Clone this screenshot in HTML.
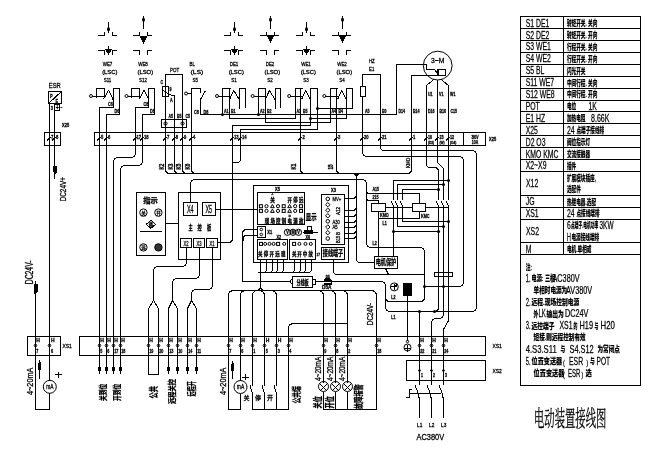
<!DOCTYPE html>
<html><head><meta charset="utf-8"><title>电动装置接线图</title>
<style>
html,body{margin:0;padding:0;background:#fff}
svg{display:block;will-change:transform;transform:translateZ(0)}
svg text{font-family:"Liberation Sans","Noto Sans CJK SC",sans-serif;fill:#000;stroke:#000;stroke-width:0.3px}
svg .tb{stroke-width:0.25px}
svg .cjt{font-family:"Liberation Sans","Noto Sans CJK SC",sans-serif;font-weight:900;stroke-width:0.15px}
svg .lb{font-weight:700}
svg .cjl{stroke-width:0.1px}
svg .cj{font-family:"Liberation Sans","Noto Sans CJK SC",sans-serif}
svg .cjb{font-family:"Liberation Sans","Noto Sans CJK SC",sans-serif;font-weight:700}
svg .ttl{font-family:"Liberation Serif","Noto Serif CJK SC",serif;font-weight:400}
</style></head><body>
<svg width="658" height="455" viewBox="0 0 658 455">
<rect x="0" y="0" width="658" height="455" fill="#fff"/>
<g fill="none" stroke="#000" stroke-width="1" stroke-linecap="square" shape-rendering="crispEdges">
<line x1="108.5" y1="22.5" x2="108.5" y2="32.5"/>
<line x1="98.5" y1="35.5" x2="104.5" y2="35.5"/>
<line x1="104.5" y1="32.5" x2="104.5" y2="35.5"/>
<line x1="112.5" y1="32.5" x2="112.5" y2="35.5"/>
<line x1="112.5" y1="35.5" x2="116.5" y2="35.5"/>
<line x1="98.5" y1="50.5" x2="104.5" y2="50.5"/>
<line x1="104.5" y1="50.5" x2="104.5" y2="54.5"/>
<line x1="112.5" y1="50.5" x2="112.5" y2="54.5"/>
<line x1="112.5" y1="50.5" x2="116.5" y2="50.5"/>
<line x1="108.5" y1="46.5" x2="108.5" y2="49.5"/>
<path d="M105.5 49 L111.5 49 L108.5 54 Z" fill="#000"/>
<line x1="143.5" y1="16.5" x2="143.5" y2="28.5"/>
<line x1="133.5" y1="35.5" x2="139.5" y2="35.5"/>
<line x1="139.5" y1="32.5" x2="139.5" y2="35.5"/>
<line x1="147.5" y1="32.5" x2="147.5" y2="35.5"/>
<line x1="147.5" y1="35.5" x2="151.5" y2="35.5"/>
<path d="M140.3 36.5 L146.7 36.5 L143.5 42.5 Z" fill="#000"/>
<line x1="133.5" y1="50.5" x2="139.5" y2="50.5"/>
<line x1="139.5" y1="50.5" x2="139.5" y2="54.5"/>
<line x1="147.5" y1="50.5" x2="147.5" y2="54.5"/>
<line x1="147.5" y1="50.5" x2="151.5" y2="50.5"/>
<line x1="234.5" y1="22.5" x2="234.5" y2="32.5"/>
<line x1="224.5" y1="35.5" x2="230.5" y2="35.5"/>
<line x1="230.5" y1="32.5" x2="230.5" y2="35.5"/>
<line x1="238.5" y1="32.5" x2="238.5" y2="35.5"/>
<line x1="238.5" y1="35.5" x2="242.5" y2="35.5"/>
<line x1="224.5" y1="50.5" x2="230.5" y2="50.5"/>
<line x1="230.5" y1="50.5" x2="230.5" y2="54.5"/>
<line x1="238.5" y1="50.5" x2="238.5" y2="54.5"/>
<line x1="238.5" y1="50.5" x2="242.5" y2="50.5"/>
<line x1="234.5" y1="46.5" x2="234.5" y2="49.5"/>
<path d="M231.5 49 L237.5 49 L234.5 54 Z" fill="#000"/>
<line x1="270.5" y1="16.5" x2="270.5" y2="28.5"/>
<line x1="260.5" y1="35.5" x2="278.5" y2="35.5"/>
<line x1="266.5" y1="32.5" x2="266.5" y2="35.5"/>
<line x1="274.5" y1="32.5" x2="274.5" y2="35.5"/>
<path d="M267.3 35.5 L273.7 35.5 L270.5 42 Z" fill="#000"/>
<line x1="260.5" y1="50.5" x2="266.5" y2="50.5"/>
<line x1="266.5" y1="50.5" x2="266.5" y2="54.5"/>
<line x1="274.5" y1="50.5" x2="274.5" y2="54.5"/>
<line x1="274.5" y1="50.5" x2="278.5" y2="50.5"/>
<line x1="306.5" y1="22.5" x2="306.5" y2="32.5"/>
<line x1="296.5" y1="35.5" x2="302.5" y2="35.5"/>
<line x1="302.5" y1="32.5" x2="302.5" y2="35.5"/>
<line x1="310.5" y1="32.5" x2="310.5" y2="35.5"/>
<line x1="310.5" y1="35.5" x2="314.5" y2="35.5"/>
<line x1="296.5" y1="50.5" x2="302.5" y2="50.5"/>
<line x1="302.5" y1="50.5" x2="302.5" y2="54.5"/>
<line x1="310.5" y1="50.5" x2="310.5" y2="54.5"/>
<line x1="310.5" y1="50.5" x2="314.5" y2="50.5"/>
<line x1="306.5" y1="46.5" x2="306.5" y2="49.5"/>
<path d="M303.5 49 L309.5 49 L306.5 54 Z" fill="#000"/>
<line x1="342.5" y1="16.5" x2="342.5" y2="28.5"/>
<line x1="332.5" y1="35.5" x2="350.5" y2="35.5"/>
<line x1="338.5" y1="32.5" x2="338.5" y2="35.5"/>
<line x1="346.5" y1="32.5" x2="346.5" y2="35.5"/>
<path d="M339.3 35.5 L345.7 35.5 L342.5 42 Z" fill="#000"/>
<line x1="332.5" y1="50.5" x2="338.5" y2="50.5"/>
<line x1="338.5" y1="50.5" x2="338.5" y2="54.5"/>
<line x1="346.5" y1="50.5" x2="346.5" y2="54.5"/>
<line x1="346.5" y1="50.5" x2="350.5" y2="50.5"/>
<line x1="92.5" y1="96.5" x2="105" y2="96.5"/>
<line x1="96.5" y1="88.5" x2="96.5" y2="97.5"/>
<line x1="96.5" y1="88.5" x2="104.5" y2="88.5"/>
<line x1="104.5" y1="88.5" x2="104.5" y2="96.5"/>
<line x1="103.7" y1="98.8" x2="108.7" y2="90.2"/>
<line x1="108.7" y1="90.2" x2="112.9" y2="99.2"/>
<line x1="113.5" y1="88.5" x2="113.5" y2="107.5"/>
<line x1="113.5" y1="88.5" x2="119.5" y2="88.5"/>
<line x1="119.5" y1="88.5" x2="119.5" y2="114.5"/>
<line x1="99.5" y1="107.5" x2="113.5" y2="107.5"/>
<line x1="99.5" y1="107.5" x2="99.5" y2="132.5"/>
<line x1="106.5" y1="114.5" x2="119.5" y2="114.5"/>
<line x1="106.5" y1="114.5" x2="106.5" y2="132.5"/>
<line x1="128" y1="96.5" x2="140.5" y2="96.5"/>
<line x1="131.5" y1="88.5" x2="131.5" y2="97.5"/>
<line x1="131.5" y1="88.5" x2="139.5" y2="88.5"/>
<line x1="139.5" y1="88.5" x2="139.5" y2="96.5"/>
<line x1="139.2" y1="98.8" x2="144.2" y2="90.2"/>
<line x1="144.2" y1="90.2" x2="148.4" y2="99.2"/>
<line x1="148.5" y1="88.5" x2="148.5" y2="107.5"/>
<line x1="148.5" y1="88.5" x2="154.5" y2="88.5"/>
<line x1="154.5" y1="88.5" x2="154.5" y2="114.5"/>
<line x1="135.5" y1="107.5" x2="148.5" y2="107.5"/>
<line x1="135.5" y1="107.5" x2="135.5" y2="132.5"/>
<line x1="142.5" y1="114.5" x2="154.5" y2="114.5"/>
<line x1="142.5" y1="114.5" x2="142.5" y2="132.5"/>
<line x1="187.5" y1="93.5" x2="191" y2="93.5"/>
<line x1="191.5" y1="88.5" x2="200.5" y2="88.5"/>
<line x1="200.5" y1="88.5" x2="200.5" y2="92.5"/>
<line x1="205" y1="91.5" x2="200.5" y2="99.5"/>
<line x1="200.5" y1="99.5" x2="200.5" y2="114.5"/>
<line x1="218.5" y1="96.5" x2="230" y2="96.5"/>
<line x1="222.5" y1="88.5" x2="222.5" y2="114.5"/>
<line x1="222.5" y1="88.5" x2="230.5" y2="88.5"/>
<line x1="229.5" y1="88.5" x2="229.5" y2="118.5"/>
<line x1="230" y1="98.5" x2="233.7" y2="90.5"/>
<line x1="233.7" y1="90.5" x2="239.3" y2="99.5"/>
<line x1="239.5" y1="88.5" x2="239.5" y2="108.5"/>
<line x1="239.5" y1="88.5" x2="245.5" y2="88.5"/>
<line x1="245.5" y1="88.5" x2="245.5" y2="107.5"/>
<line x1="254.2" y1="96.5" x2="265.7" y2="96.5"/>
<line x1="258.5" y1="88.5" x2="258.5" y2="114.5"/>
<line x1="258.5" y1="88.5" x2="265.5" y2="88.5"/>
<line x1="265.5" y1="88.5" x2="265.5" y2="122.5"/>
<line x1="265.7" y1="98.5" x2="269.4" y2="90.5"/>
<line x1="269.4" y1="90.5" x2="275" y2="99.5"/>
<line x1="275.5" y1="88.5" x2="275.5" y2="108.5"/>
<line x1="275.5" y1="88.5" x2="280.5" y2="88.5"/>
<line x1="280.5" y1="88.5" x2="280.5" y2="107.5"/>
<line x1="290.7" y1="96.5" x2="302" y2="96.5"/>
<line x1="295.5" y1="88.5" x2="295.5" y2="118.5"/>
<line x1="295.5" y1="88.5" x2="302.5" y2="88.5"/>
<line x1="302" y1="98.5" x2="305.5" y2="90.5"/>
<line x1="305.5" y1="90.5" x2="310.5" y2="99.5"/>
<line x1="310.5" y1="88.5" x2="310.5" y2="125.5"/>
<line x1="310.5" y1="88.5" x2="317.5" y2="88.5"/>
<line x1="317.5" y1="88.5" x2="317.5" y2="129.5"/>
<line x1="325.8" y1="96.5" x2="338" y2="96.5"/>
<line x1="330.5" y1="88.5" x2="330.5" y2="122.5"/>
<line x1="330.5" y1="88.5" x2="337.5" y2="88.5"/>
<line x1="338" y1="98.5" x2="341.5" y2="90.5"/>
<line x1="341.5" y1="90.5" x2="346.5" y2="99.5"/>
<line x1="346.5" y1="88.5" x2="346.5" y2="118.5"/>
<line x1="346.5" y1="88.5" x2="352.5" y2="88.5"/>
<line x1="352.5" y1="88.5" x2="352.5" y2="108.5"/>
<line x1="317.5" y1="108.5" x2="352.5" y2="108.5"/>
<line x1="200.5" y1="114.5" x2="396.5" y2="114.5"/>
<line x1="396.5" y1="64.5" x2="396.5" y2="114.5"/>
<line x1="229.5" y1="118.5" x2="295.5" y2="118.5"/>
<line x1="310.5" y1="118.5" x2="346.5" y2="118.5"/>
<line x1="265.5" y1="122.5" x2="330.5" y2="122.5"/>
<line x1="232.5" y1="125.5" x2="310.5" y2="125.5"/>
<line x1="240.5" y1="129.5" x2="317.5" y2="129.5"/>
<line x1="165.5" y1="74.5" x2="182.5" y2="74.5"/>
<rect x="162.5" y="86.5" width="6" height="10"/>
<line x1="162" y1="90" x2="171.5" y2="95.5"/>
<line x1="171.5" y1="95.5" x2="174.5" y2="95.5"/>
<rect x="161.5" y="119.5" width="25" height="8"/>
<line x1="362.5" y1="74.5" x2="380.5" y2="74.5"/>
<rect x="360.5" y="86.5" width="5" height="10" fill="#fff"/>
<line x1="396.5" y1="64.5" x2="426.5" y2="64.5"/>
<line x1="426.5" y1="64.5" x2="426.5" y2="69.5"/>
<line x1="426.5" y1="69.5" x2="434.5" y2="69.5"/>
<line x1="434.5" y1="69.5" x2="436.5" y2="72"/>
<rect x="437.5" y="69.5" width="8" height="6"/>
<line x1="438.5" y1="69.5" x2="438.5" y2="75.5"/>
<line x1="411.5" y1="75.5" x2="436.5" y2="75.5"/>
<line x1="437.5" y1="80.5" x2="437.5" y2="145.5"/>
<line x1="433.5" y1="79.7" x2="426.5" y2="85.5"/>
<line x1="426.5" y1="85.5" x2="426.5" y2="145.5"/>
<line x1="441.5" y1="79.7" x2="448.5" y2="85.5"/>
<line x1="448.5" y1="85.5" x2="448.5" y2="145.5"/>
<rect x="94.5" y="132.5" width="391" height="13"/>
<line x1="463.5" y1="132.5" x2="463.5" y2="145.5"/>
<rect x="44.5" y="132.5" width="16" height="13"/>
<line x1="97.8" y1="140.2" x2="100" y2="137.6" stroke-width="1.4"/>
<line x1="104.8" y1="140.2" x2="107" y2="137.6" stroke-width="1.4"/>
<line x1="133.8" y1="140.2" x2="136" y2="137.6" stroke-width="1.4"/>
<line x1="140.8" y1="140.2" x2="143" y2="137.6" stroke-width="1.4"/>
<line x1="163.8" y1="140.2" x2="166" y2="137.6" stroke-width="1.4"/>
<line x1="172.8" y1="140.2" x2="175" y2="137.6" stroke-width="1.4"/>
<line x1="180.8" y1="140.2" x2="183" y2="137.6" stroke-width="1.4"/>
<line x1="189.8" y1="140.2" x2="192" y2="137.6" stroke-width="1.4"/>
<line x1="230.8" y1="140.2" x2="233" y2="137.6" stroke-width="1.4"/>
<line x1="238.8" y1="140.2" x2="241" y2="137.6" stroke-width="1.4"/>
<line x1="298.8" y1="140.2" x2="301" y2="137.6" stroke-width="1.4"/>
<line x1="334.8" y1="140.2" x2="337" y2="137.6" stroke-width="1.4"/>
<line x1="360.8" y1="140.2" x2="363" y2="137.6" stroke-width="1.4"/>
<line x1="378.8" y1="140.2" x2="381" y2="137.6" stroke-width="1.4"/>
<line x1="409.8" y1="140.2" x2="412" y2="137.6" stroke-width="1.4"/>
<line x1="424.8" y1="140.2" x2="427" y2="137.6" stroke-width="1.4"/>
<line x1="435.8" y1="140.2" x2="438" y2="137.6" stroke-width="1.4"/>
<line x1="446.8" y1="140.2" x2="449" y2="137.6" stroke-width="1.4"/>
<line x1="47.8" y1="140.2" x2="50" y2="137.6" stroke-width="1.4"/>
<line x1="52.8" y1="140.2" x2="55" y2="137.6" stroke-width="1.4"/>
<line x1="99.5" y1="132.5" x2="99.5" y2="336.5"/>
<line x1="106.5" y1="132.5" x2="106.5" y2="336.5"/>
<line x1="135.5" y1="132.5" x2="135.5" y2="145.5"/>
<line x1="142.5" y1="132.5" x2="142.5" y2="145.5"/>
<line x1="165.5" y1="74.5" x2="165.5" y2="127.5"/>
<line x1="165.5" y1="127.5" x2="165.5" y2="145.5"/>
<line x1="174.5" y1="95.5" x2="174.5" y2="145.5"/>
<line x1="182.5" y1="74.5" x2="182.5" y2="145.5"/>
<line x1="191.5" y1="88.5" x2="191.5" y2="145.5"/>
<line x1="232.5" y1="125.5" x2="232.5" y2="145.5"/>
<line x1="240.5" y1="129.5" x2="240.5" y2="145.5"/>
<line x1="300.5" y1="88.5" x2="300.5" y2="145.5"/>
<line x1="336.5" y1="88.5" x2="336.5" y2="145.5"/>
<line x1="362.5" y1="74.5" x2="362.5" y2="86.5"/>
<line x1="362.5" y1="96.5" x2="362.5" y2="145.5"/>
<line x1="380.5" y1="74.5" x2="380.5" y2="145.5"/>
<line x1="411.5" y1="75.5" x2="411.5" y2="145.5"/>
<rect x="48.5" y="91.5" width="13" height="12"/>
<line x1="48.5" y1="103.5" x2="61.5" y2="91.5"/>
<rect x="54.5" y="104.5" width="5" height="6"/>
<line x1="49.5" y1="103.5" x2="49.5" y2="380.5"/>
<line x1="54.5" y1="103.5" x2="54.5" y2="178.5"/>
<path d="M53.8 166 L56.3 166 L56.3 172 L55 174 L53.8 172 Z" fill="#000"/>
<line x1="35.5" y1="281.5" x2="35.5" y2="409.5"/>
<path d="M34 284.5 L37 284.5 L37 292 L35.5 294 L34 292 Z" fill="#000"/>
<path d="M135.5 145.5 L135.5 152.5 Q135.5 157.5 130.5 157.5 L118.5 157.5 Q113.5 157.5 113.5 162.5 L113.5 336.5"/>
<path d="M142.5 145.5 L142.5 160.5 Q142.5 165.5 137.5 165.5 L125.5 165.5 Q120.5 165.5 120.5 170.5 L120.5 336.5"/>
<path d="M165.5 145.5 L165.5 169 Q165.5 173.5 170 173.5 L175.5 173.5"/>
<path d="M174.5 145.5 L174.5 169 Q174.5 173.5 179 173.5 L184.5 173.5"/>
<path d="M182.5 145.5 L182.5 169 Q182.5 173.5 187 173.5 L192.5 173.5"/>
<path d="M191.5 145.5 L191.5 169 Q191.5 173.5 196 173.5 L201.5 173.5"/>
<path d="M300.5 145.5 L300.5 169 Q300.5 173.5 305 173.5 L310.5 173.5"/>
<path d="M336.5 145.5 L336.5 169 Q336.5 173.5 341 173.5 L346.5 173.5"/>
<line x1="170.5" y1="173.5" x2="408.5" y2="173.5"/>
<path d="M400.5 173.5 L407 173.5 Q411.5 173.5 411.5 169 L411.5 145.5"/>
<line x1="232.5" y1="145.5" x2="232.5" y2="234.5"/>
<path d="M240.5 145.5 L240.5 158.5 Q240.5 162.5 236.5 162.5 L232.5 162.5"/>
<path d="M232.5 230.5 L232.5 238 Q232.5 242.5 228 242.5 L217.5 242.5"/>
<path d="M190.5 202.5 L190.5 184.5 Q190.5 179.5 195.5 179.5 L361.5 179.5 Q366.5 179.5 366.5 184.5 L366.5 242.5 Q366.5 247.5 371.5 247.5 L419.5 247.5 Q424.5 247.5 424.5 252.5 L424.5 297.5"/>
<path d="M362.5 145.5 L362.5 151.5 Q362.5 156.5 367.5 156.5 L458.5 156.5 Q463.5 156.5 463.5 161.5 L463.5 281.5 Q463.5 286.5 458.5 286.5 L424.5 286.5"/>
<path d="M380.5 145.5 L380.5 148 Q380.5 150.5 385.5 150.5 L471.5 150.5 Q476.5 150.5 476.5 155.5 L476.5 306.5 Q476.5 311.5 471.5 311.5 L390.5 311.5 Q385.5 311.5 385.5 306.5 L385.5 290.5"/>
<path d="M426.5 145.5 L426.5 163.5 Q426.5 167.5 430.5 167.5 L434.5 167.5 Q438.5 167.5 438.5 171.5 L438.5 199.5"/>
<path d="M437.5 145.5 L437.5 160.5 Q437.5 163.5 440 165.16 L441 165.84 Q443.5 167.5 443.5 170.5 L443.5 199.5"/>
<line x1="448.5" y1="145.5" x2="448.5" y2="199.5"/>
<path d="M354 173.5 L359 173.5 L356.5 177 Z" fill="#000"/>
<path d="M356.5 173.5 L356.5 258.5 Q356.5 262.5 360.5 262.5 L374.5 262.5"/>
<line x1="393.5" y1="180.5" x2="393.5" y2="199.5"/>
<line x1="391.3" y1="201.5" x2="393.5" y2="206.5"/>
<line x1="393.5" y1="206.5" x2="393.5" y2="231.5"/>
<line x1="397.5" y1="184.5" x2="397.5" y2="199.5"/>
<line x1="395.3" y1="201.5" x2="397.5" y2="206.5"/>
<line x1="397.5" y1="206.5" x2="397.5" y2="226.5"/>
<line x1="402.5" y1="189.5" x2="402.5" y2="199.5"/>
<line x1="400.3" y1="201.5" x2="402.5" y2="206.5"/>
<line x1="402.5" y1="206.5" x2="402.5" y2="221.5"/>
<line x1="436.3" y1="201.5" x2="438.5" y2="206.5"/>
<line x1="438.5" y1="206.5" x2="438.5" y2="276.5"/>
<line x1="441.3" y1="201.5" x2="443.5" y2="206.5"/>
<line x1="443.5" y1="206.5" x2="443.5" y2="276.5"/>
<line x1="446.3" y1="201.5" x2="448.5" y2="206.5"/>
<line x1="448.5" y1="206.5" x2="448.5" y2="276.5"/>
<line x1="393.5" y1="180.5" x2="448.5" y2="180.5"/>
<line x1="397.5" y1="184.5" x2="443.5" y2="184.5"/>
<line x1="402.5" y1="189.5" x2="438.5" y2="189.5"/>
<line x1="402.5" y1="221.5" x2="448.5" y2="221.5"/>
<line x1="397.5" y1="226.5" x2="443.5" y2="226.5"/>
<line x1="393.5" y1="231.5" x2="438.5" y2="231.5"/>
<line x1="393.5" y1="231.5" x2="393.5" y2="256.5"/>
<rect x="371.5" y="203.5" width="14" height="8"/>
<rect x="412.5" y="203.5" width="13" height="8"/>
<line x1="385.5" y1="207.5" x2="412.5" y2="207.5"/>
<line x1="425.5" y1="207.5" x2="448.5" y2="207.5"/>
<line x1="370.5" y1="193.5" x2="419.5" y2="193.5"/>
<line x1="419.5" y1="193.5" x2="419.5" y2="203.5"/>
<line x1="370.5" y1="200.5" x2="378.5" y2="200.5"/>
<line x1="378.5" y1="200.5" x2="378.5" y2="203.5"/>
<line x1="378.5" y1="211.5" x2="378.5" y2="256.5"/>
<line x1="419.5" y1="211.5" x2="419.5" y2="218.5"/>
<line x1="378.5" y1="218.5" x2="419.5" y2="218.5"/>
<path d="M366.5 186.5 L366.5 190.5 Q366.5 193.5 369.5 193.5 L372.5 193.5"/>
<path d="M366.5 193.5 L366.5 197.5 Q366.5 200.5 369.5 200.5 L372.5 200.5"/>
<rect x="374.5" y="256.5" width="23" height="12"/>
<line x1="385.5" y1="268.5" x2="388" y2="273.5"/>
<path d="M333.5 259.5 L333.5 270.5 Q333.5 274.5 337.5 274.5 L424.5 274.5"/>
<rect x="434.5" y="272.5" width="18" height="4"/>
<path d="M438.5 276.5 L438.5 307 Q438.5 311.5 434 311.5 L429.5 311.5"/>
<path d="M443.5 276.5 L443.5 313.5 Q443.5 318.5 438.5 318.5 L436.5 318.5 Q431.5 318.5 431.5 323.5 L431.5 336.5"/>
<path d="M448.5 276.5 L448.5 320.5 L443.5 329.5 L443.5 336.5"/>
<line x1="419.5" y1="311.5" x2="419.5" y2="384.5"/>
<line x1="431.5" y1="336.5" x2="431.5" y2="384.5"/>
<line x1="443.5" y1="336.5" x2="443.5" y2="384.5"/>
<path d="M316.5 281.5 L381 281.5 Q385.5 281.5 385.5 286 L385.5 297 Q385.5 301.5 390 301.5 L420 301.5 Q424.5 301.5 424.5 297 L424.5 290.5"/>
<line x1="391.5" y1="286.8" x2="396" y2="286.8"/>
<line x1="394.3" y1="284" x2="394.3" y2="289.5"/>
<line x1="394.3" y1="286.8" x2="397" y2="284.5"/>
<rect x="403.5" y="283.5" width="8" height="12" fill="#000"/>
<line x1="407.5" y1="296.5" x2="407.5" y2="340.5"/>
<line x1="404.5" y1="348.3" x2="410" y2="348.3"/>
<line x1="407.5" y1="345.5" x2="407.5" y2="351"/>
<rect x="79.5" y="336.5" width="406" height="19"/>
<rect x="27.5" y="336.5" width="33" height="19"/>
<rect x="406.5" y="360.5" width="79" height="20"/>
<line x1="99.5" y1="336.5" x2="99.5" y2="373.5"/>
<path d="M98.2 367 L100.8 367 L100.8 370 L99.5 372 L98.2 370 Z" fill="#000"/>
<line x1="106.5" y1="336.5" x2="106.5" y2="373.5"/>
<path d="M105.2 367 L107.8 367 L107.8 370 L106.5 372 L105.2 370 Z" fill="#000"/>
<line x1="113.5" y1="336.5" x2="113.5" y2="373.5"/>
<path d="M112.2 367 L114.8 367 L114.8 370 L113.5 372 L112.2 370 Z" fill="#000"/>
<line x1="120.5" y1="336.5" x2="120.5" y2="373.5"/>
<path d="M119.2 367 L121.8 367 L121.8 370 L120.5 372 L119.2 370 Z" fill="#000"/>
<line x1="168.5" y1="336.5" x2="168.5" y2="373.5"/>
<path d="M167.2 367 L169.8 367 L169.8 370 L168.5 372 L167.2 370 Z" fill="#000"/>
<line x1="177.5" y1="336.5" x2="177.5" y2="373.5"/>
<path d="M176.2 367 L178.8 367 L178.8 370 L177.5 372 L176.2 370 Z" fill="#000"/>
<line x1="187.5" y1="336.5" x2="187.5" y2="373.5"/>
<path d="M186.2 367 L188.8 367 L188.8 370 L187.5 372 L186.2 370 Z" fill="#000"/>
<line x1="196.5" y1="336.5" x2="196.5" y2="373.5"/>
<path d="M195.2 367 L197.8 367 L197.8 370 L196.5 372 L195.2 370 Z" fill="#000"/>
<line x1="148.5" y1="308.5" x2="148.5" y2="374.5"/>
<line x1="158.5" y1="308.5" x2="158.5" y2="374.5"/>
<line x1="148.5" y1="374.5" x2="158.5" y2="374.5"/>
<path d="M148.5 336.5 L148.5 308.5 L153.5 300.5 L158.5 308.5 L158.5 336.5"/>
<path d="M168.5 336.5 L168.5 308.5 L172.5 300.5 L177.5 308.5 L177.5 336.5"/>
<path d="M187.5 336.5 L187.5 308.5 L191.5 300.5 L196.5 308.5 L196.5 336.5"/>
<path d="M186.5 247.5 L186.5 261.5 Q186.5 266.5 181.5 266.5 L158.5 266.5 Q153.5 266.5 153.5 271.5 L153.5 300.5"/>
<path d="M199.5 247.5 L199.5 273.5 Q199.5 278.5 194.5 278.5 L177.5 278.5 Q172.5 278.5 172.5 283.5 L172.5 300.5"/>
<path d="M212.5 247.5 L212.5 284.5 Q212.5 289.5 207.5 289.5 L196.5 289.5 Q191.5 289.5 191.5 294.5 L191.5 300.5"/>
<line x1="35.5" y1="409.5" x2="49.5" y2="409.5"/>
<line x1="49.5" y1="393.5" x2="49.5" y2="409.5"/>
<line x1="55.7" y1="374.5" x2="61" y2="374.5"/>
<line x1="58.3" y1="372" x2="58.3" y2="377"/>
<line x1="39.5" y1="362.5" x2="39.5" y2="378.5"/>
<path d="M39.5 361.5 L40.8 364 L40.8 369.5 L38.6 369.5 L38.6 364 Z" fill="#000"/>
<line x1="228.5" y1="355.5" x2="228.5" y2="409.5"/>
<line x1="228.5" y1="409.5" x2="240.5" y2="409.5"/>
<line x1="240.5" y1="355.5" x2="240.5" y2="380.5"/>
<line x1="240.5" y1="394.5" x2="240.5" y2="409.5"/>
<line x1="242.8" y1="377" x2="248" y2="377"/>
<line x1="245.4" y1="374.5" x2="245.4" y2="379.5"/>
<line x1="232.5" y1="362.5" x2="232.5" y2="378.5"/>
<path d="M232.5 362.5 L233.8 365 L233.8 370 L231.6 370 L231.6 365 Z" fill="#000"/>
<line x1="252.5" y1="355.5" x2="252.5" y2="385.5"/>
<line x1="250.2" y1="386" x2="252.5" y2="393.5"/>
<line x1="252.5" y1="393.5" x2="252.5" y2="409.5"/>
<line x1="264.5" y1="355.5" x2="264.5" y2="385.5"/>
<line x1="262.2" y1="386" x2="264.5" y2="393.5"/>
<line x1="264.5" y1="393.5" x2="264.5" y2="409.5"/>
<line x1="276.5" y1="355.5" x2="276.5" y2="385.5"/>
<line x1="274.2" y1="386" x2="276.5" y2="393.5"/>
<line x1="276.5" y1="393.5" x2="276.5" y2="409.5"/>
<line x1="288.5" y1="355.5" x2="288.5" y2="409.5"/>
<line x1="252.5" y1="409.5" x2="288.5" y2="409.5"/>
<line x1="323.5" y1="355.5" x2="323.5" y2="382.5"/>
<line x1="320" y1="383.8" x2="327" y2="390.8"/>
<line x1="320" y1="390.8" x2="327" y2="383.8"/>
<line x1="323.5" y1="392.5" x2="323.5" y2="409.5"/>
<line x1="335.5" y1="355.5" x2="335.5" y2="382.5"/>
<line x1="332" y1="383.8" x2="339" y2="390.8"/>
<line x1="332" y1="390.8" x2="339" y2="383.8"/>
<line x1="335.5" y1="392.5" x2="335.5" y2="409.5"/>
<line x1="347.5" y1="355.5" x2="347.5" y2="382.5"/>
<line x1="344" y1="383.8" x2="351" y2="390.8"/>
<line x1="344" y1="390.8" x2="351" y2="383.8"/>
<line x1="347.5" y1="392.5" x2="347.5" y2="409.5"/>
<line x1="323.5" y1="409.5" x2="376.5" y2="409.5"/>
<line x1="376.5" y1="355.5" x2="376.5" y2="409.5"/>
<line x1="233.5" y1="290.5" x2="371.5" y2="290.5"/>
<path d="M239.5 290.5 L234 290.5 Q228.5 290.5 228.5 296 L228.5 336.5"/>
<path d="M251.5 290.5 L246 290.5 Q240.5 290.5 240.5 296 L240.5 336.5"/>
<path d="M263.5 290.5 L258 290.5 Q252.5 290.5 252.5 296 L252.5 336.5"/>
<path d="M253.5 290.5 L259 290.5 Q264.5 290.5 264.5 296 L264.5 336.5"/>
<path d="M265.5 290.5 L271 290.5 Q276.5 290.5 276.5 296 L276.5 336.5"/>
<path d="M312.5 290.5 L318 290.5 Q323.5 290.5 323.5 296 L323.5 336.5"/>
<path d="M324.5 290.5 L330 290.5 Q335.5 290.5 335.5 296 L335.5 336.5"/>
<path d="M336.5 290.5 L342 290.5 Q347.5 290.5 347.5 296 L347.5 336.5"/>
<path d="M364.5 290.5 L371 290.5 Q376.5 290.5 376.5 296 L376.5 336.5"/>
<path d="M347.5 323.5 L294 323.5 Q288.5 323.5 288.5 329 L288.5 336.5"/>
<line x1="260.5" y1="259.5" x2="260.5" y2="288.5"/>
<path d="M257.5 290.5 Q260.5 289.5 260.5 286.5 Q260.5 289.5 263.5 290.5"/>
<line x1="228.5" y1="336.5" x2="228.5" y2="355.5"/>
<line x1="240.5" y1="336.5" x2="240.5" y2="355.5"/>
<line x1="252.5" y1="336.5" x2="252.5" y2="355.5"/>
<line x1="264.5" y1="336.5" x2="264.5" y2="355.5"/>
<line x1="276.5" y1="336.5" x2="276.5" y2="355.5"/>
<line x1="288.5" y1="336.5" x2="288.5" y2="355.5"/>
<line x1="323.5" y1="336.5" x2="323.5" y2="355.5"/>
<line x1="335.5" y1="336.5" x2="335.5" y2="355.5"/>
<line x1="347.5" y1="336.5" x2="347.5" y2="355.5"/>
<line x1="376.5" y1="336.5" x2="376.5" y2="355.5"/>
<path d="M415.2 386 Q419.2 394 419.5 402 L419.5 417"/>
<path d="M427.2 386 Q431.2 394 431.5 402 L431.5 417"/>
<path d="M439.2 386 Q443.2 394 443.5 402 L443.5 417"/>
<line x1="409.5" y1="393.5" x2="440.5" y2="393.5"/>
<path d="M406.5 397.5 L409.5 397.5 L409.5 389.5 L411.5 389.5"/>
<rect x="136.5" y="192.5" width="29" height="63"/>
<path d="M146.3 224.3 L150.9 220.3 L155.5 224.3 L150.9 228.3 Z"/>
<line x1="140.5" y1="231.5" x2="161.5" y2="231.5"/>
<line x1="165.5" y1="223.5" x2="178.5" y2="223.5"/>
<rect x="178.5" y="192.5" width="42" height="67"/>
<rect x="183.5" y="202.5" width="14" height="13"/>
<rect x="202.5" y="202.5" width="13" height="13"/>
<line x1="215.5" y1="209.5" x2="257.5" y2="209.5"/>
<rect x="180.5" y="238.5" width="11" height="9"/>
<rect x="193.5" y="238.5" width="11" height="9"/>
<rect x="206.5" y="238.5" width="11" height="9"/>
<rect x="253.5" y="185.5" width="95" height="77"/>
<rect x="257.5" y="192.5" width="47" height="32"/>
<rect x="257.5" y="226.5" width="8" height="11"/>
<line x1="303.5" y1="232.5" x2="317.5" y2="232.5"/>
<rect x="307.5" y="226.5" width="4" height="4"/>
<rect x="304.5" y="230.5" width="8" height="3" fill="#000"/>
<path d="M257.5 229.5 L246.5 229.5 Q242.5 229.5 242.5 233.5 L242.5 245.5"/>
<path d="M242.5 245.5 L242.5 281.5 L290.5 281.5"/>
<path d="M257.5 235.5 L246.5 235.5 Q243.5 235.5 243.5 238 L243.5 240.5"/>
<rect x="257.5" y="239.5" width="30" height="20"/>
<rect x="289.5" y="239.5" width="26" height="20"/>
<path d="M266.5 259.5 L266.5 268.5 Q266.5 272.5 262.5 272.5 L258.5 272.5"/>
<path d="M272.5 259.5 L272.5 268.5 Q272.5 272.5 268.5 272.5 L264.5 272.5"/>
<path d="M277.5 259.5 L277.5 268.5 Q277.5 272.5 273.5 272.5 L269.5 272.5"/>
<path d="M283.5 259.5 L283.5 268.5 Q283.5 272.5 279.5 272.5 L275.5 272.5"/>
<path d="M294.5 259.5 L294.5 268.5 Q294.5 272.5 290.5 272.5 L286.5 272.5"/>
<path d="M300.5 259.5 L300.5 268.5 Q300.5 272.5 296.5 272.5 L292.5 272.5"/>
<path d="M305.5 259.5 L305.5 268.5 Q305.5 272.5 301.5 272.5 L297.5 272.5"/>
<path d="M311.5 259.5 L311.5 268.5 Q311.5 272.5 307.5 272.5 L303.5 272.5"/>
<line x1="260.5" y1="272.5" x2="309.5" y2="272.5"/>
<rect x="321.5" y="194.5" width="23" height="50"/>
<path d="M344.5 198.5 L352 198.5 Q356.5 198.5 356.5 194 L356.5 189.5"/>
<path d="M344.5 210.5 L352 210.5 Q356.5 210.5 356.5 206 L356.5 201.5"/>
<path d="M344.5 216.5 L352 216.5 Q356.5 216.5 356.5 212 L356.5 207.5"/>
<path d="M344.5 222.5 L352 222.5 Q356.5 222.5 356.5 218 L356.5 213.5"/>
<path d="M344.5 227.5 L352 227.5 Q356.5 227.5 356.5 223 L356.5 218.5"/>
<path d="M344.5 233.5 L352 233.5 Q356.5 233.5 356.5 229 L356.5 224.5"/>
<path d="M344.5 238.5 L352 238.5 Q356.5 238.5 356.5 234 L356.5 229.5"/>
<rect x="321.5" y="247.5" width="23" height="12"/>
<path d="M333.5 259.5 L333.5 270.5 Q333.5 274.5 337 274.5 L340.5 274.5"/>
<rect x="292.5" y="276.5" width="20" height="11"/>
<path d="M292.5 278.5 L289.5 281.5 L292.5 284.5"/>
<rect x="312.5" y="279.5" width="3" height="5"/>
<path d="M324 284.5 L324 280.5 L325.5 278.8 L329.5 278.8 L331 280.5 L331 284.5 Z" fill="#000"/>
<line x1="324.5" y1="282.5" x2="330.5" y2="282.5" stroke="#fff"/>
<rect x="520.5" y="16.5" width="120" height="369"/>
<line x1="520.5" y1="16.5" x2="640.5" y2="16.5"/>
<line x1="520.5" y1="28.5" x2="640.5" y2="28.5"/>
<line x1="520.5" y1="40.5" x2="640.5" y2="40.5"/>
<line x1="520.5" y1="52.5" x2="640.5" y2="52.5"/>
<line x1="520.5" y1="64.5" x2="640.5" y2="64.5"/>
<line x1="520.5" y1="76.5" x2="640.5" y2="76.5"/>
<line x1="520.5" y1="88.5" x2="640.5" y2="88.5"/>
<line x1="520.5" y1="100.5" x2="640.5" y2="100.5"/>
<line x1="520.5" y1="111.5" x2="640.5" y2="111.5"/>
<line x1="520.5" y1="123.5" x2="640.5" y2="123.5"/>
<line x1="520.5" y1="135.5" x2="640.5" y2="135.5"/>
<line x1="520.5" y1="147.5" x2="640.5" y2="147.5"/>
<line x1="520.5" y1="159.5" x2="640.5" y2="159.5"/>
<line x1="520.5" y1="171.5" x2="640.5" y2="171.5"/>
<line x1="520.5" y1="195.5" x2="640.5" y2="195.5"/>
<line x1="520.5" y1="207.5" x2="640.5" y2="207.5"/>
<line x1="520.5" y1="219.5" x2="640.5" y2="219.5"/>
<line x1="520.5" y1="242.5" x2="640.5" y2="242.5"/>
<line x1="520.5" y1="254.5" x2="640.5" y2="254.5"/>
<line x1="563.5" y1="16.5" x2="563.5" y2="254.5"/>
</g>
<g fill="none" stroke="#000" stroke-width="1">
<ellipse cx="108.5" cy="29.3" rx="1.5" ry="2.1" fill="#000" stroke="none"/>
<ellipse cx="143.5" cy="19.8" rx="1.5" ry="2.1" fill="#000" stroke="none"/>
<ellipse cx="234.5" cy="29.3" rx="1.5" ry="2.1" fill="#000" stroke="none"/>
<ellipse cx="270.5" cy="19.8" rx="1.5" ry="2.1" fill="#000" stroke="none"/>
<ellipse cx="306.5" cy="29.3" rx="1.5" ry="2.1" fill="#000" stroke="none"/>
<ellipse cx="342.5" cy="19.8" rx="1.5" ry="2.1" fill="#000" stroke="none"/>
<circle cx="91" cy="96" r="1.5"/>
<circle cx="126.5" cy="96" r="1.5"/>
<circle cx="186" cy="93.5" r="1.5"/>
<circle cx="217" cy="96" r="1.5"/>
<circle cx="252.7" cy="96" r="1.5"/>
<circle cx="289.2" cy="96" r="1.5"/>
<circle cx="324.3" cy="96" r="1.5"/>
<circle cx="317.5" cy="108.5" r="1.5" fill="#000" stroke="none"/>
<circle cx="222.5" cy="114.5" r="1.5" fill="#000" stroke="none"/>
<circle cx="258.5" cy="114.5" r="1.5" fill="#000" stroke="none"/>
<circle cx="310.5" cy="118.5" r="1.5" fill="#000" stroke="none"/>
<circle cx="165.5" cy="123.5" r="1.6"/>
<circle cx="182.5" cy="123.5" r="1.6"/>
<circle cx="437.7" cy="65.6" r="14.4"/>
<circle cx="424.5" cy="286.5" r="1.5" fill="#000" stroke="none"/>
<circle cx="443.5" cy="286.5" r="1.5" fill="#000" stroke="none"/>
<circle cx="448.5" cy="180.5" r="1.5" fill="#000" stroke="none"/>
<circle cx="443.5" cy="184.5" r="1.5" fill="#000" stroke="none"/>
<circle cx="438.5" cy="189.5" r="1.5" fill="#000" stroke="none"/>
<circle cx="448.5" cy="221.5" r="1.5" fill="#000" stroke="none"/>
<circle cx="443.5" cy="226.5" r="1.5" fill="#000" stroke="none"/>
<circle cx="438.5" cy="231.5" r="1.6" fill="#000" stroke="none"/>
<circle cx="393.5" cy="231.5" r="1.5" fill="#000" stroke="none"/>
<circle cx="434.5" cy="311.5" r="1.5" fill="#000" stroke="none"/>
<circle cx="419.5" cy="311.5" r="1.5" fill="#000" stroke="none"/>
<circle cx="394.3" cy="286.9" r="4"/>
<circle cx="407.5" cy="341.5" r="1.2"/>
<circle cx="407.5" cy="347.5" r="3.5"/>
<circle cx="99.5" cy="345.5" r="1.3"/>
<circle cx="106.5" cy="345.5" r="1.3"/>
<circle cx="113.5" cy="345.5" r="1.3"/>
<circle cx="120.5" cy="345.5" r="1.3"/>
<circle cx="148.5" cy="345.5" r="1.3"/>
<circle cx="158.5" cy="345.5" r="1.3"/>
<circle cx="168.5" cy="345.5" r="1.3"/>
<circle cx="177.5" cy="345.5" r="1.3"/>
<circle cx="187.5" cy="345.5" r="1.3"/>
<circle cx="196.5" cy="345.5" r="1.3"/>
<circle cx="228.5" cy="345.5" r="1.3"/>
<circle cx="240.5" cy="345.5" r="1.3"/>
<circle cx="252.5" cy="345.5" r="1.3"/>
<circle cx="264.5" cy="345.5" r="1.3"/>
<circle cx="276.5" cy="345.5" r="1.3"/>
<circle cx="288.5" cy="345.5" r="1.3"/>
<circle cx="323.5" cy="345.5" r="1.3"/>
<circle cx="335.5" cy="345.5" r="1.3"/>
<circle cx="347.5" cy="345.5" r="1.3"/>
<circle cx="376.5" cy="345.5" r="1.3"/>
<circle cx="419.5" cy="345.5" r="1.3"/>
<circle cx="431.5" cy="345.5" r="1.3"/>
<circle cx="443.5" cy="345.5" r="1.3"/>
<circle cx="35.5" cy="345.5" r="1.3"/>
<circle cx="49.5" cy="345.5" r="1.3"/>
<circle cx="49.8" cy="386.8" r="6.5"/>
<circle cx="240.5" cy="387" r="6.5"/>
<circle cx="323.5" cy="386.5" r="5"/>
<circle cx="335.5" cy="386.5" r="5"/>
<circle cx="347.5" cy="386.5" r="5"/>
<circle cx="419.5" cy="370.5" r="0.9" fill="#000"/>
<circle cx="431.5" cy="370.5" r="0.9" fill="#000"/>
<circle cx="443.5" cy="370.5" r="0.9" fill="#000"/>
<circle cx="143.4" cy="212.6" r="3.7"/>
<circle cx="158.4" cy="212.6" r="3.7"/>
<circle cx="143.4" cy="247.4" r="3.7"/>
<circle cx="158.4" cy="247.4" r="3.7" fill="#333"/>
<rect x="259.4" y="204.7" width="3" height="3"/>
<rect x="259.4" y="209.4" width="3" height="3"/>
<circle cx="266.5" cy="206.2" r="1.6"/>
<circle cx="266.5" cy="210.9" r="1.6"/>
<path d="M270.5 207.7 L274.3 207.7 L272.4 204.5 Z"/>
<path d="M270.5 212.4 L274.3 212.4 L272.4 209.2 Z"/>
<circle cx="278" cy="206.2" r="1.6"/>
<circle cx="278" cy="210.9" r="1.6"/>
<rect x="282.2" y="204.7" width="3" height="3"/>
<rect x="282.2" y="209.4" width="3" height="3"/>
<path d="M287.7 207.7 L291.5 207.7 L289.6 204.5 Z"/>
<path d="M287.7 212.4 L291.5 212.4 L289.6 209.2 Z"/>
<circle cx="295.2" cy="206.2" r="1.6"/>
<circle cx="295.2" cy="210.9" r="1.6"/>
<rect x="299.5" y="204.7" width="3" height="3"/>
<rect x="299.5" y="209.4" width="3" height="3"/>
<circle cx="261.3" cy="229.5" r="1.3"/>
<circle cx="261.3" cy="234.5" r="1.3"/>
<circle cx="287.4" cy="232.3" r="3.1"/>
<circle cx="293" cy="232.3" r="3.1"/>
<circle cx="298.5" cy="232.3" r="3.1"/>
<rect x="259.5" y="242.4" width="3" height="3"/>
<circle cx="265.2" cy="243.9" r="1.5"/>
<circle cx="269.5" cy="243.9" r="1.5"/>
<circle cx="273.6" cy="243.9" r="1.5"/>
<rect x="276.6" y="242.4" width="3" height="3"/>
<circle cx="284.2" cy="243.9" r="1.5"/>
<rect x="292.6" y="242.4" width="3" height="3"/>
<circle cx="299.4" cy="243.9" r="1.5"/>
<circle cx="305.5" cy="243.9" r="1.5"/>
<circle cx="310.8" cy="243.9" r="1.5"/>
<circle cx="327.8" cy="198.9" r="1.8"/>
<path d="M325.6 204.7 L327.8 202.5 L330 204.7 L327.8 206.9 Z"/>
<path d="M325.6 210.2 L327.8 208 L330 210.2 L327.8 212.4 Z"/>
<path d="M325.6 215.8 L327.8 213.6 L330 215.8 L327.8 218 Z"/>
<circle cx="327.8" cy="221.3" r="1.8"/>
<path d="M325.6 227 L327.8 224.8 L330 227 L327.8 229.2 Z"/>
<path d="M325.6 232.7 L327.8 230.5 L330 232.7 L327.8 234.9 Z"/>
<circle cx="327.8" cy="238.5" r="1.8"/>
</g>
<g>
<text transform="translate(107.5 66) scale(0.72 1)" font-size="6.2" text-anchor="middle">WE7</text>
<text transform="translate(109.8 74.3) scale(0.95 1)" font-size="6.2" text-anchor="middle">(LSC)</text>
<text transform="translate(107.5 82.2) scale(0.72 1)" font-size="6.2" text-anchor="middle">S11</text>
<text transform="translate(143 66) scale(0.72 1)" font-size="6.2" text-anchor="middle">WE8</text>
<text transform="translate(145.3 74.3) scale(0.95 1)" font-size="6.2" text-anchor="middle">(LSO)</text>
<text transform="translate(143 82.2) scale(0.72 1)" font-size="6.2" text-anchor="middle">S12</text>
<text transform="translate(234 66) scale(0.72 1)" font-size="6.2" text-anchor="middle">DE1</text>
<text transform="translate(236.3 74.3) scale(0.95 1)" font-size="6.2" text-anchor="middle">(LSC)</text>
<text transform="translate(234 82.2) scale(0.72 1)" font-size="6.2" text-anchor="middle">S1</text>
<text transform="translate(270 66) scale(0.72 1)" font-size="6.2" text-anchor="middle">DE2</text>
<text transform="translate(272.3 74.3) scale(0.95 1)" font-size="6.2" text-anchor="middle">(LSO)</text>
<text transform="translate(270 82.2) scale(0.72 1)" font-size="6.2" text-anchor="middle">S2</text>
<text transform="translate(306 66) scale(0.72 1)" font-size="6.2" text-anchor="middle">WE1</text>
<text transform="translate(308.3 74.3) scale(0.95 1)" font-size="6.2" text-anchor="middle">(LSC)</text>
<text transform="translate(306 82.2) scale(0.72 1)" font-size="6.2" text-anchor="middle">S3</text>
<text transform="translate(342 66) scale(0.72 1)" font-size="6.2" text-anchor="middle">WE2</text>
<text transform="translate(344.3 74.3) scale(0.95 1)" font-size="6.2" text-anchor="middle">(LSO)</text>
<text transform="translate(342 82.2) scale(0.72 1)" font-size="6.2" text-anchor="middle">S4</text>
<text transform="translate(189.5 66) scale(0.72 1)" font-size="6.2">BL</text>
<text transform="translate(190.5 74.3) scale(1.1 1)" font-size="6.2">(LS)</text>
<text transform="translate(192.5 82.2) scale(0.72 1)" font-size="6.2">S5</text>
<text transform="translate(170 72) scale(0.72 1)" font-size="6.2">POT</text>
<text transform="translate(369 63) scale(0.72 1)" font-size="6">HZ</text>
<text transform="translate(369 70.5) scale(0.72 1)" font-size="6">E1</text>
<text transform="translate(108 105.5) scale(0.75 1)" font-size="5" class="lb">C6</text>
<text transform="translate(114.5 113) scale(0.75 1)" font-size="5" class="lb">D6</text>
<text transform="translate(143.5 105.5) scale(0.75 1)" font-size="5" class="lb">C8</text>
<text transform="translate(150 113) scale(0.75 1)" font-size="5" class="lb">D8</text>
<text transform="translate(194 113.5) scale(0.75 1)" font-size="5" class="lb">C8</text>
<text transform="translate(203.5 113.5) scale(0.75 1)" font-size="5" class="lb">D8</text>
<text transform="translate(224 113.3) scale(0.72 1)" font-size="5" class="lb">A1</text>
<text transform="translate(231 113.3) scale(0.72 1)" font-size="5" class="lb">B1</text>
<text transform="translate(260 113.3) scale(0.72 1)" font-size="5" class="lb">A2</text>
<text transform="translate(267 113.3) scale(0.72 1)" font-size="5" class="lb">B2</text>
<text transform="translate(296.5 113.3) scale(0.72 1)" font-size="5" class="lb">A3</text>
<text transform="translate(303 113.3) scale(0.72 1)" font-size="5" class="lb">B5</text>
<text transform="translate(331.5 113.3) scale(0.72 1)" font-size="5" class="lb">A4</text>
<text transform="translate(338.5 113.3) scale(0.72 1)" font-size="5" class="lb">B4</text>
<text transform="translate(365 113.3) scale(0.72 1)" font-size="5" class="lb">A5</text>
<text transform="translate(382 113.3) scale(0.72 1)" font-size="5" class="lb">B0</text>
<text transform="translate(398.5 113.3) scale(0.72 1)" font-size="5" class="lb">D14</text>
<text transform="translate(413 113.3) scale(0.72 1)" font-size="5" class="lb">B14</text>
<text transform="translate(428 113.3) scale(0.72 1)" font-size="5" class="lb">D16</text>
<text transform="translate(439.5 113.3) scale(0.72 1)" font-size="5" class="lb">B16</text>
<text transform="translate(450.5 113.3) scale(0.72 1)" font-size="5" class="lb">C15</text>
<text transform="translate(160.5 83.5) scale(0.7 1)" font-size="5" class="lb">C</text>
<text transform="translate(169.5 91) scale(0.75 1)" font-size="5" class="lb">9</text>
<text transform="translate(170 102) scale(0.75 1)" font-size="5" class="lb">A</text>
<text transform="translate(168.5 118) scale(0.72 1)" font-size="5" class="lb">A5</text>
<text transform="translate(177 118) scale(0.72 1)" font-size="5" class="lb">B5</text>
<text transform="translate(185.5 118) scale(0.72 1)" font-size="5" class="lb">C5</text>
<text transform="translate(431 62.5) scale(0.85 1)" font-size="8">3~M</text>
<text transform="translate(428 96.3) scale(0.72 1)" font-size="5" class="lb">U1</text>
<text transform="translate(439 96.3) scale(0.72 1)" font-size="5" class="lb">V1</text>
<text transform="translate(450 96.3) scale(0.72 1)" font-size="5" class="lb">W1</text>
<text transform="translate(62 127) scale(0.8 1)" font-size="5" class="lb">X25</text>
<text transform="translate(489 141) scale(0.8 1)" font-size="5" class="lb">X25</text>
<text transform="translate(101 138.7) scale(0.72 1)" font-size="5.8" class="lb">5</text>
<text transform="translate(108 138.7) scale(0.72 1)" font-size="5.8" class="lb">6</text>
<text transform="translate(136.5 138.7) scale(0.72 1)" font-size="5.8" class="lb">17</text>
<text transform="translate(144 138.7) scale(0.72 1)" font-size="5.8" class="lb">18</text>
<text transform="translate(167 138.7) scale(0.72 1)" font-size="5.8" class="lb">7</text>
<text transform="translate(175.7 138.7) scale(0.72 1)" font-size="5.8" class="lb">8</text>
<text transform="translate(184 138.7) scale(0.72 1)" font-size="5.8" class="lb">9</text>
<text transform="translate(193 138.7) scale(0.72 1)" font-size="5.8" class="lb">4</text>
<text transform="translate(234 138.7) scale(0.72 1)" font-size="5.8" class="lb">13</text>
<text transform="translate(242 138.7) scale(0.72 1)" font-size="5.8" class="lb">14</text>
<text transform="translate(302.5 138.7) scale(0.72 1)" font-size="5.8" class="lb">2</text>
<text transform="translate(338 138.7) scale(0.72 1)" font-size="5.8" class="lb">3</text>
<text transform="translate(364 138.7) scale(0.72 1)" font-size="5.8" class="lb">20</text>
<text transform="translate(382 138.7) scale(0.72 1)" font-size="5.8" class="lb">21</text>
<text transform="translate(413 138.7) scale(0.72 1)" font-size="5.8" class="lb">1</text>
<text transform="translate(51 138.7) scale(0.72 1)" font-size="5.8" class="lb">7</text>
<text transform="translate(56 138.7) scale(0.72 1)" font-size="5.8" class="lb">8</text>
<text transform="translate(428 138.5) scale(0.7 1)" font-size="5.4" class="lb">10</text>
<text transform="translate(428 143.8) scale(0.72 1)" font-size="4.4" class="lb">(D2)</text>
<text transform="translate(439.5 138.5) scale(0.7 1)" font-size="5.4" class="lb">23</text>
<text transform="translate(439.5 143.8) scale(0.72 1)" font-size="4.4" class="lb">(W)</text>
<text transform="translate(450 138.5) scale(0.7 1)" font-size="5.4" class="lb">12</text>
<text transform="translate(450 143.8) scale(0.72 1)" font-size="4.4" class="lb">(O4)</text>
<text transform="translate(475 138.5) scale(0.62 1)" font-size="5" text-anchor="middle" class="lb">380V</text>
<text transform="translate(475 143.5) scale(0.7 1)" font-size="5" text-anchor="middle" class="lb">10A</text>
<text transform="translate(48.8 87.7) scale(0.8 1)" font-size="7.3">ESR</text>
<text transform="translate(50 97.5) scale(0.7 1)" font-size="5.6" class="lb">P</text>
<text transform="translate(55.5 102.8) scale(0.7 1)" font-size="5.6" class="lb">E</text>
<text transform="translate(50.8 109.7) scale(0.7 1)" font-size="5.8" class="lb">3</text>
<text transform="translate(57.2 109.6) scale(0.8 1)" font-size="6.5" text-anchor="middle" class="lb">+</text>
<text transform="translate(60.5 109.3) scale(0.9 1)" font-size="6" class="lb">-</text>
<text transform="translate(65.8 201.3) rotate(-90) scale(0.69 1)" font-size="9.2">DC24V+</text>
<text transform="translate(33.3 284.3) rotate(-90) scale(0.67 1)" font-size="10.2">DC24V-</text>
<text transform="translate(163.7 169.5) rotate(-90) scale(0.72 1)" font-size="6.4" class="lb">K2</text>
<text transform="translate(172.7 169.5) rotate(-90) scale(0.72 1)" font-size="6.4" class="lb">K3</text>
<text transform="translate(181 169.5) rotate(-90) scale(0.72 1)" font-size="6.4" class="lb">K5</text>
<text transform="translate(190.3 169.5) rotate(-90) scale(0.72 1)" font-size="6.4" class="lb">K6</text>
<text transform="translate(296.3 169.5) rotate(-90) scale(0.72 1)" font-size="6.4" class="lb">K1</text>
<text transform="translate(332.8 169.5) rotate(-90) scale(0.72 1)" font-size="6.4" class="lb">15</text>
<text transform="translate(409.5 168) rotate(-90) scale(0.8 1)" font-size="5.6">KMO</text>
<text transform="translate(372.5 191.3) scale(0.72 1)" font-size="5" class="lb">A15</text>
<text transform="translate(372.5 198.5) scale(0.72 1)" font-size="5" class="lb">215</text>
<text transform="translate(380 217.3) scale(0.72 1)" font-size="5.2" class="lb">KMO</text>
<text transform="translate(382.5 224.6) scale(0.72 1)" font-size="5" class="lb">L1</text>
<text transform="translate(421 217.5) scale(0.72 1)" font-size="5.2" class="lb">KMC</text>
<text transform="translate(372.5 244.6) scale(0.72 1)" font-size="5" class="lb">L2</text>
<text transform="translate(385.9 265.2) scale(0.64 1)" font-size="8" text-anchor="middle" class="cjb">电机保护</text>
<text transform="translate(391.3 298.6) scale(0.72 1)" font-size="5" class="lb">L2</text>
<text transform="translate(391.3 318.7) scale(0.72 1)" font-size="5" class="lb">L1</text>
<text transform="translate(372.8 325.2) rotate(-90) scale(0.74 1)" font-size="8.6">DC24V-</text>
<text transform="translate(62.5 348) scale(0.8 1)" font-size="6.2">XS1</text>
<text transform="translate(492.5 348) scale(0.8 1)" font-size="6.2">XS1</text>
<text transform="translate(492.5 372.8) scale(0.8 1)" font-size="6.2">XS2</text>
<text transform="translate(100.2 342.4) scale(0.9 1)" font-size="5.6" class="lb">H</text>
<text transform="translate(100.2 353) scale(0.72 1)" font-size="5.2" class="lb">5</text>
<text transform="translate(107.2 342.4) scale(0.9 1)" font-size="5.6" class="lb">H</text>
<text transform="translate(107.2 353) scale(0.72 1)" font-size="5.2" class="lb">6</text>
<text transform="translate(114.2 342.4) scale(0.9 1)" font-size="5.6" class="lb">H</text>
<text transform="translate(114.2 353) scale(0.72 1)" font-size="5.2" class="lb">17</text>
<text transform="translate(121.2 342.4) scale(0.9 1)" font-size="5.6" class="lb">H</text>
<text transform="translate(121.2 353) scale(0.72 1)" font-size="5.2" class="lb">18</text>
<text transform="translate(149.2 342.4) scale(0.9 1)" font-size="5.6" class="lb">H</text>
<text transform="translate(149.2 353) scale(0.72 1)" font-size="5.2" class="lb">19</text>
<text transform="translate(159.2 342.4) scale(0.9 1)" font-size="5.6" class="lb">H</text>
<text transform="translate(159.2 353) scale(0.72 1)" font-size="5.2" class="lb">20</text>
<text transform="translate(169.2 342.4) scale(0.9 1)" font-size="5.6" class="lb">H</text>
<text transform="translate(169.2 353) scale(0.72 1)" font-size="5.2" class="lb">13</text>
<text transform="translate(178.2 342.4) scale(0.9 1)" font-size="5.6" class="lb">H</text>
<text transform="translate(178.2 353) scale(0.72 1)" font-size="5.2" class="lb">10</text>
<text transform="translate(188.2 342.4) scale(0.9 1)" font-size="5.6" class="lb">H</text>
<text transform="translate(188.2 353) scale(0.72 1)" font-size="5.2" class="lb">14</text>
<text transform="translate(197.2 342.4) scale(0.9 1)" font-size="5.6" class="lb">H</text>
<text transform="translate(197.2 353) scale(0.72 1)" font-size="5.2" class="lb">11</text>
<text transform="translate(229.2 342.4) scale(0.9 1)" font-size="5.6" class="lb">H</text>
<text transform="translate(229.2 353) scale(0.72 1)" font-size="5.2" class="lb">7</text>
<text transform="translate(241.2 342.4) scale(0.9 1)" font-size="5.6" class="lb">H</text>
<text transform="translate(241.2 353) scale(0.72 1)" font-size="5.2" class="lb">6</text>
<text transform="translate(253.2 342.4) scale(0.9 1)" font-size="5.6" class="lb">H</text>
<text transform="translate(253.2 353) scale(0.72 1)" font-size="5.2" class="lb">1</text>
<text transform="translate(265.7 342.4) scale(0.9 1)" font-size="5.6" class="lb">H</text>
<text transform="translate(265.7 353) scale(0.72 1)" font-size="5.2" class="lb">5</text>
<text transform="translate(277.7 342.4) scale(0.9 1)" font-size="5.6" class="lb">H</text>
<text transform="translate(277.7 353) scale(0.72 1)" font-size="5.2" class="lb">3</text>
<text transform="translate(289.2 342.4) scale(0.9 1)" font-size="5.6" class="lb">H</text>
<text transform="translate(289.2 353) scale(0.72 1)" font-size="5.2" class="lb">4</text>
<text transform="translate(324.2 342.4) scale(0.9 1)" font-size="5.6" class="lb">H</text>
<text transform="translate(324.2 353) scale(0.72 1)" font-size="5.2" class="lb">9</text>
<text transform="translate(336.2 342.4) scale(0.9 1)" font-size="5.6" class="lb">H</text>
<text transform="translate(336.2 353) scale(0.72 1)" font-size="5.2" class="lb">8</text>
<text transform="translate(348.2 342.4) scale(0.9 1)" font-size="5.6" class="lb">H</text>
<text transform="translate(348.2 353) scale(0.72 1)" font-size="5.2" class="lb">2</text>
<text transform="translate(377.2 342.4) scale(0.9 1)" font-size="5.6" class="lb">H</text>
<text transform="translate(377.2 353) scale(0.72 1)" font-size="5.2" class="lb">18</text>
<text transform="translate(420.2 342.4) scale(0.9 1)" font-size="5.6" class="lb">H</text>
<text transform="translate(420.2 353) scale(0.72 1)" font-size="5.2" class="lb">22</text>
<text transform="translate(432.2 342.4) scale(0.9 1)" font-size="5.6" class="lb">H</text>
<text transform="translate(432.2 353) scale(0.72 1)" font-size="5.2" class="lb">21</text>
<text transform="translate(444.2 342.4) scale(0.9 1)" font-size="5.6" class="lb">H</text>
<text transform="translate(444.2 353) scale(0.72 1)" font-size="5.2" class="lb">24</text>
<text transform="translate(36.2 342.4) scale(0.9 1)" font-size="5.6" class="lb">H</text>
<text transform="translate(36.2 353) scale(0.72 1)" font-size="5.2" class="lb">7</text>
<text transform="translate(51 342.4) scale(0.9 1)" font-size="5.6" class="lb">H</text>
<text transform="translate(51 353) scale(0.72 1)" font-size="5.2" class="lb">6</text>
<text transform="translate(106 401) rotate(-90) scale(0.74 1)" font-size="7.7" class="cjb">关到位</text>
<text transform="translate(119.8 401) rotate(-90) scale(0.74 1)" font-size="7.7" class="cjb">开到位</text>
<text transform="translate(157.4 398.5) rotate(-90) scale(0.66 1)" font-size="9.5" class="cjb">公共</text>
<text transform="translate(175 404) rotate(-90) scale(0.76 1)" font-size="8.2" class="cjb">远程关控</text>
<text transform="translate(195.3 396.5) rotate(-90) scale(0.58 1)" font-size="8.9" class="cjb">远程开</text>
<text transform="translate(49.8 389) scale(0.75 1)" font-size="6.5" text-anchor="middle">mA</text>
<text transform="translate(33.2 395) rotate(-90) scale(0.77 1)" font-size="9.5">4~20mA</text>
<text transform="translate(240.5 389.2) scale(0.75 1)" font-size="6.5" text-anchor="middle">mA</text>
<text transform="translate(225.8 395) rotate(-90) scale(0.77 1)" font-size="9.5">4~20mA</text>
<text transform="translate(243.5 400)" font-size="6" class="cj">关</text>
<text transform="translate(255 400)" font-size="6" class="cj">停</text>
<text transform="translate(267 400)" font-size="6" class="cj">开</text>
<text transform="translate(299.8 403.5) rotate(-90) scale(0.61 1)" font-size="9.5" class="cjb">公共端</text>
<text transform="translate(320.5 381) rotate(-90) scale(0.72 1)" font-size="9">4~20mA</text>
<text transform="translate(332.5 381) rotate(-90) scale(0.72 1)" font-size="9">4~20mA</text>
<text transform="translate(344.5 381) rotate(-90) scale(0.72 1)" font-size="9">4~20mA</text>
<text transform="translate(320.9 408.5) rotate(-90) scale(0.69 1)" font-size="9" class="cjb">关位</text>
<text transform="translate(333 408.5) rotate(-90) scale(0.69 1)" font-size="9" class="cjb">开位</text>
<text transform="translate(361.7 409) rotate(-90) scale(0.69 1)" font-size="9" class="cjb">故障报警</text>
<text transform="translate(421 376.5) scale(0.7 1)" font-size="5" class="lb">1</text>
<text transform="translate(433 376.5) scale(0.7 1)" font-size="5" class="lb">2</text>
<text transform="translate(445 376.5) scale(0.7 1)" font-size="5" class="lb">3</text>
<text transform="translate(417 427) scale(0.8 1)" font-size="6">L1</text>
<text transform="translate(429 427) scale(0.8 1)" font-size="6">L2</text>
<text transform="translate(441 427) scale(0.8 1)" font-size="6">L3</text>
<text transform="translate(416.5 439.8) scale(0.8 1)" font-size="9.3">AC380V</text>
<text transform="translate(107 400.5) scale(0.75 1)" font-size="6"></text>
<text transform="translate(150.5 203) scale(1.08 1)" font-size="6.8" text-anchor="middle" class="cjb">指示</text>
<text transform="translate(143.4 214.6) scale(0.9 1)" font-size="5" text-anchor="middle" class="cj">关</text>
<text transform="translate(158.4 214.6) scale(0.9 1)" font-size="5" text-anchor="middle" class="cj">开</text>
<text transform="translate(150.9 226.2) scale(0.9 1)" font-size="4.6" text-anchor="middle" class="cj">停</text>
<text transform="translate(143.4 249.3) scale(0.9 1)" font-size="5" text-anchor="middle" class="cj">远</text>
<text transform="translate(190.3 213) scale(0.5 1)" font-size="11" text-anchor="middle">X4</text>
<text transform="translate(208.8 213) scale(0.5 1)" font-size="11" text-anchor="middle">X5</text>
<text transform="translate(188.5 229.6) scale(0.62 1)" font-size="6.8" class="cjb">主</text>
<text transform="translate(197.5 229.6) scale(0.62 1)" font-size="6.8" class="cjb">控</text>
<text transform="translate(207 229.6) scale(0.62 1)" font-size="6.8" class="cjb">板</text>
<text transform="translate(186 245.5) scale(0.55 1)" font-size="7.5" text-anchor="middle">X2</text>
<text transform="translate(199 245.5) scale(0.55 1)" font-size="7.5" text-anchor="middle">X3</text>
<text transform="translate(212 245.5) scale(0.55 1)" font-size="7.5" text-anchor="middle">X1</text>
<text transform="translate(275 190.8) scale(0.8 1)" font-size="5" class="lb">X5</text>
<text transform="translate(331 191.5) scale(0.8 1)" font-size="5" class="lb">X3</text>
<text transform="translate(272.5 201.5) scale(0.85 1)" font-size="5.4" text-anchor="middle" class="cjb">关</text>
<text transform="translate(272.5 196.3) scale(0.8 1)" font-size="4" text-anchor="middle" class="lb">^</text>
<text transform="translate(289.8 202.3) scale(0.85 1)" font-size="5.2" text-anchor="middle" class="cjb">开</text>
<text transform="translate(295.5 202.3) scale(0.85 1)" font-size="5.2" text-anchor="middle" class="cjb">停</text>
<text transform="translate(301.2 202.3) scale(0.85 1)" font-size="5.2" text-anchor="middle" class="cjb">远</text>
<text transform="translate(266.9 223.4) scale(0.85 1)" font-size="5.2" text-anchor="middle" class="cjb">现</text>
<text transform="translate(272.6 223.4) scale(0.85 1)" font-size="5.2" text-anchor="middle" class="cjb">场</text>
<text transform="translate(278.3 223.4) scale(0.85 1)" font-size="5.2" text-anchor="middle" class="cjb">控</text>
<text transform="translate(284 223.4) scale(0.85 1)" font-size="5.2" text-anchor="middle" class="cjb">制</text>
<text transform="translate(289.7 223.4) scale(0.85 1)" font-size="5.2" text-anchor="middle" class="cjb">电</text>
<text transform="translate(295.4 223.4) scale(0.85 1)" font-size="5.2" text-anchor="middle" class="cjb">源</text>
<text transform="translate(301.1 223.4) scale(0.85 1)" font-size="5.2" text-anchor="middle" class="cjb">故</text>
<text transform="translate(289.6 218.3) scale(0.9 1)" font-size="4.5" text-anchor="middle" class="lb">=</text>
<text transform="translate(305.8 220.3) scale(0.68 1)" font-size="8" class="cjb">显示</text>
<text transform="translate(267.3 234.3) scale(0.8 1)" font-size="5" class="lb">X1</text>
<text transform="translate(287.4 234.2) scale(0.8 1)" font-size="4.8" text-anchor="middle" class="lb">V</text>
<text transform="translate(293 234.2) scale(0.8 1)" font-size="4.8" text-anchor="middle" class="lb">M</text>
<text transform="translate(298.5 234.2) scale(0.8 1)" font-size="4.8" text-anchor="middle" class="lb">V</text>
<text transform="translate(276.5 238.6) scale(0.8 1)" font-size="4.6" class="lb">X2</text>
<text transform="translate(305.5 238.6) scale(0.8 1)" font-size="4.6" class="lb">X6</text>
<text transform="translate(260.3 256.2) scale(0.85 1)" font-size="5.2" text-anchor="middle" class="cjb">关</text>
<text transform="translate(266 256.2) scale(0.85 1)" font-size="5.2" text-anchor="middle" class="cjb">停</text>
<text transform="translate(271.6 256.2) scale(0.85 1)" font-size="5.2" text-anchor="middle" class="cjb">开</text>
<text transform="translate(277.4 256.2) scale(0.85 1)" font-size="5.2" text-anchor="middle" class="cjb">远</text>
<text transform="translate(283.1 256.2) scale(0.85 1)" font-size="5.2" text-anchor="middle" class="cjb">现</text>
<text transform="translate(294.1 256.2) scale(0.85 1)" font-size="5.2" text-anchor="middle" class="cjb">关</text>
<text transform="translate(299.4 256.2) scale(0.85 1)" font-size="5.2" text-anchor="middle" class="cjb">开</text>
<text transform="translate(305 256.2) scale(0.85 1)" font-size="5.2" text-anchor="middle" class="cjb">中</text>
<text transform="translate(310.8 256.2) scale(0.85 1)" font-size="5.2" text-anchor="middle" class="cjb">故</text>
<text transform="translate(316.5 256.3) scale(0.75 1)" font-size="4.2" class="lb">17</text>
<text transform="translate(332.5 201) scale(0.72 1)" font-size="5.8">MV+</text>
<text transform="translate(339.5 215) rotate(-90) scale(0.8 1)" font-size="5.6">A12</text>
<text transform="translate(332.5 223.5) scale(0.72 1)" font-size="5.8">A30</text>
<text transform="translate(332.5 229.3) scale(0.72 1)" font-size="5.8">A5</text>
<text transform="translate(339.5 243) rotate(-90) scale(0.72 1)" font-size="5.6">B15 B</text>
<text transform="translate(333 256) scale(0.64 1)" font-size="8" text-anchor="middle" class="cjb">接线端子</text>
<text transform="translate(302.5 284.8) scale(0.62 1)" font-size="6.6" text-anchor="middle" class="cjb">分线板</text>
<text transform="translate(325.7 277.8) scale(0.85 1)" font-size="3.6" class="lb">D5</text>
<text transform="translate(322 288.7) scale(0.95 1)" font-size="5" class="lb">D5A</text>
<text transform="translate(525.7 26.6) scale(0.66 1)" font-size="10.4" class="tb">S1 DE1</text>
<text transform="translate(567 26) scale(0.58 1)" font-size="8" class="cjt">转矩开关. 关向</text>
<text transform="translate(525.7 38.5) scale(0.66 1)" font-size="10.4" class="tb">S2 DE2</text>
<text transform="translate(567 37.9) scale(0.58 1)" font-size="8" class="cjt">转矩开关. 开向</text>
<text transform="translate(525.7 50.4) scale(0.66 1)" font-size="10.4" class="tb">S3 WE1</text>
<text transform="translate(567 49.8) scale(0.58 1)" font-size="8" class="cjt">行程开关. 关向</text>
<text transform="translate(525.7 62.3) scale(0.66 1)" font-size="10.4" class="tb">S4 WE2</text>
<text transform="translate(567 61.7) scale(0.58 1)" font-size="8" class="cjt">行程开关. 开向</text>
<text transform="translate(525.7 74.2) scale(0.66 1)" font-size="10.4" class="tb">S5 BL</text>
<text transform="translate(567 73.6) scale(0.58 1)" font-size="8" class="cjt">闪光开关</text>
<text transform="translate(525.7 86.1) scale(0.66 1)" font-size="10.4" class="tb">S11 WE7</text>
<text transform="translate(567 85.5) scale(0.58 1)" font-size="8" class="cjt">中间行程. 关向</text>
<text transform="translate(525.7 98) scale(0.66 1)" font-size="10.4" class="tb">S12 WE8</text>
<text transform="translate(567 97.4) scale(0.58 1)" font-size="8" class="cjt">中间行程. 开向</text>
<text transform="translate(525.7 109.9) scale(0.66 1)" font-size="10.4" class="tb">POT</text>
<text transform="translate(525.7 121.8) scale(0.66 1)" font-size="10.4" class="tb">E1 HZ</text>
<text transform="translate(525.7 133.7) scale(0.66 1)" font-size="10.4" class="tb">X25</text>
<text transform="translate(525.7 145.6) scale(0.66 1)" font-size="10.4" class="tb">D2 O3</text>
<text transform="translate(567 145) scale(0.58 1)" font-size="8" class="cjt">阀位指示灯</text>
<text transform="translate(525.7 157.5) scale(0.66 1)" font-size="10.4" class="tb">KMO KMC</text>
<text transform="translate(567 156.9) scale(0.58 1)" font-size="8" class="cjt">交流接触器</text>
<text transform="translate(525.7 169.4) scale(0.66 1)" font-size="10.4" class="tb">X2~X9</text>
<text transform="translate(567 168.8) scale(0.58 1)" font-size="8" class="cjt">插件</text>
<text transform="translate(525.7 205.1) scale(0.66 1)" font-size="10.4" class="tb">JG</text>
<text transform="translate(567 204.5) scale(0.58 1)" font-size="8" class="cjt">热继电器.选配</text>
<text transform="translate(525.7 217) scale(0.66 1)" font-size="10.4" class="tb">XS1</text>
<text transform="translate(525.7 252.7) scale(0.66 1)" font-size="10.4" class="tb">M</text>
<text transform="translate(567 252.1) scale(0.58 1)" font-size="8" class="cjt">电机.单相或</text>
<text transform="translate(526 187.4) scale(0.66 1)" font-size="10.4" class="tb">X12</text>
<text transform="translate(526 235) scale(0.66 1)" font-size="10.4" class="tb">XS2</text>
<text transform="translate(567 109.3) scale(0.58 1)" font-size="8" class="cjt">电位</text>
<text transform="translate(588.5 109.9) scale(0.66 1)" font-size="10.4" class="tb">1K</text>
<text transform="translate(567 121.2) scale(0.58 1)" font-size="8" class="cjt">加热电阻</text>
<text transform="translate(591 121.8) scale(0.68 1)" font-size="10.4" class="tb">8.66K</text>
<text transform="translate(567 133.7) scale(0.66 1)" font-size="10.4" class="tb">24</text>
<text transform="translate(576.5 133.1) scale(0.58 1)" font-size="8" class="cjt">点端子接线排</text>
<text transform="translate(567 180.7) scale(0.58 1)" font-size="8" class="cjt">扩展模块插座,</text>
<text transform="translate(567 192.4) scale(0.58 1)" font-size="8" class="cjt">选配件</text>
<text transform="translate(567 217) scale(0.66 1)" font-size="10.4" class="tb">24</text>
<text transform="translate(576.5 216.4) scale(0.58 1)" font-size="8" class="cjt">点接线端排</text>
<text transform="translate(567 228.5) scale(0.66 1)" font-size="10.4" class="tb">6</text>
<text transform="translate(571 228.3) scale(0.47 1)" font-size="8" class="cjt">点端子.电机功率</text>
<text transform="translate(599.5 228.8) scale(0.62 1)" font-size="10.4" class="tb">3KW</text>
<text transform="translate(567 240.5) scale(0.52 1)" font-size="10.4" class="tb">H</text>
<text transform="translate(571.5 240) scale(0.58 1)" font-size="8" class="cjt">电源接线端排</text>
<text transform="translate(525.7 269.6) scale(0.62 1)" font-size="7.8" class="cjt">注:</text>
<text transform="translate(525.7 281.7) scale(0.56 1)" font-size="10.4" class="tb">1.</text>
<text transform="translate(531.5 280.9) scale(0.66 1)" font-size="7.8" class="cjt">电源: 三相</text>
<text transform="translate(552.5 281.7) scale(0.7 1)" font-size="10.4" class="tb">AC380V</text>
<text transform="translate(533.6 292.8) scale(0.72 1)" font-size="7.8" class="cjt">单相时电源为.</text>
<text transform="translate(566 293.6) scale(0.7 1)" font-size="10.4" class="tb">AV380V</text>
<text transform="translate(525.7 305.5) scale(0.56 1)" font-size="10.4" class="tb">2.</text>
<text transform="translate(531.5 304.7) scale(0.74 1)" font-size="7.8" class="cjt">远程.现场控制电源</text>
<text transform="translate(533.6 316.6) scale(0.62 1)" font-size="7.8" class="cjt">外</text>
<text transform="translate(538.5 317.4) scale(0.58 1)" font-size="10.4" class="tb">LK</text>
<text transform="translate(546.5 316.6) scale(0.74 1)" font-size="7.8" class="cjt">输出为</text>
<text transform="translate(565 317.4) scale(0.7 1)" font-size="10.4" class="tb">DC24V</text>
<text transform="translate(525.7 329.3) scale(0.56 1)" font-size="10.4" class="tb">3.</text>
<text transform="translate(531.5 328.5) scale(0.74 1)" font-size="7.8" class="cjt">远控端子</text>
<text transform="translate(559.5 329.3) scale(0.66 1)" font-size="10.4" class="tb">XS1</text>
<text transform="translate(573.5 328.5) scale(0.5 1)" font-size="7.8" class="cjt">的</text>
<text transform="translate(579.5 329.3) scale(0.71 1)" font-size="10.4" class="tb">H19</text>
<text transform="translate(594.5 328.5) scale(0.5 1)" font-size="7.8" class="cjt">与</text>
<text transform="translate(600.5 329.3) scale(0.75 1)" font-size="10.4" class="tb">H20</text>
<text transform="translate(533.6 340.4) scale(0.72 1)" font-size="7.8" class="cjt">短接.则远程控制有效</text>
<text transform="translate(525.7 353.1) scale(0.74 1)" font-size="10.4" class="tb">4.S3.S11</text>
<text transform="translate(560.5 352.3) scale(0.6 1)" font-size="7.8" class="cjt">与</text>
<text transform="translate(569.5 353.1) scale(0.71 1)" font-size="10.4" class="tb">S4.S12</text>
<text transform="translate(597.5 352.3) scale(0.72 1)" font-size="7.8" class="cjt">为常闭点</text>
<text transform="translate(525.7 365) scale(0.56 1)" font-size="10.4" class="tb">5.</text>
<text transform="translate(531.5 364.2) scale(0.79 1)" font-size="7.8" class="cjt">位置变送器</text>
<text transform="translate(563 365) scale(0.66 1)" font-size="8" class="tb">(</text>
<text transform="translate(569 365) scale(0.66 1)" font-size="10.4" class="tb">ESR</text>
<text transform="translate(586.5 365) scale(0.66 1)" font-size="8" class="tb">)</text>
<text transform="translate(590 364.2) scale(0.6 1)" font-size="7.8" class="cjt">与</text>
<text transform="translate(596.5 365) scale(0.64 1)" font-size="10.4" class="tb">POT</text>
<text transform="translate(533.6 376.1) scale(0.79 1)" font-size="7.8" class="cjt">位置变送器</text>
<text transform="translate(563 376.9) scale(0.66 1)" font-size="8" class="tb">(</text>
<text transform="translate(568 376.9) scale(0.58 1)" font-size="10.4" class="tb">ESR</text>
<text transform="translate(581.5 376.9) scale(0.66 1)" font-size="8" class="tb">)</text>
<text transform="translate(585.5 376.1) scale(0.8 1)" font-size="7.8" class="cjt">选</text>
<text transform="translate(534 426.3) scale(0.47 1)" font-size="22" class="ttl">电动装置接线图</text>
</g>
</svg>
</body></html>
